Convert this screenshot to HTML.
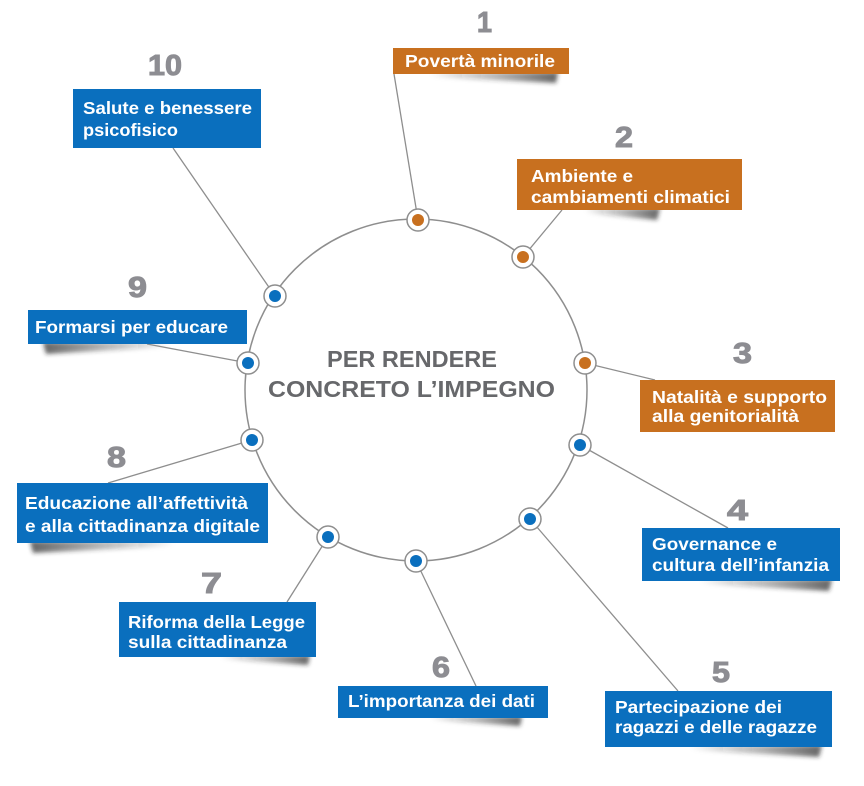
<!DOCTYPE html>
<html>
<head>
<meta charset="utf-8">
<style>
html,body{margin:0;padding:0;background:#fff;}
svg{display:block;}
.lbl{font-family:"Liberation Sans",sans-serif;font-weight:bold;font-size:17.5px;fill:#fff;}
.num{font-family:"Liberation Sans",sans-serif;font-weight:bold;font-size:29px;fill:#8d8d92;stroke:#8d8d92;stroke-width:1;}
.ctr{font-family:"Liberation Sans",sans-serif;font-weight:bold;font-size:23px;fill:#67686b;}
</style>
</head>
<body>
<svg width="864" height="786" viewBox="0 0 864 786" xmlns="http://www.w3.org/2000/svg">
<defs>
<filter id="bl" x="-20%" y="-200%" width="140%" height="500%"><feGaussianBlur stdDeviation="2.2"/></filter>
<linearGradient id="gr" x1="0" y1="0" x2="1" y2="0">
<stop offset="0" stop-color="#000" stop-opacity="0"/>
<stop offset="0.5" stop-color="#333" stop-opacity="0.35"/>
<stop offset="1" stop-color="#222" stop-opacity="0.7"/>
</linearGradient>
<linearGradient id="gl" x1="1" y1="0" x2="0" y2="0">
<stop offset="0" stop-color="#000" stop-opacity="0"/>
<stop offset="0.5" stop-color="#333" stop-opacity="0.35"/>
<stop offset="1" stop-color="#222" stop-opacity="0.7"/>
</linearGradient>
</defs>

<!-- shadows -->
<g filter="url(#bl)">
<polygon points="430,72 558,72 556,83 430,77" fill="url(#gr)"/>
<polygon points="585,208 660,208 657,220 585,213" fill="url(#gr)"/>
<polygon points="700,579 832,579 829,591 700,584" fill="url(#gr)"/>
<polygon points="690,745 822,745 819,757 690,750" fill="url(#gr)"/>
<polygon points="430,716 522,716 520,726 430,720" fill="url(#gr)"/>
<polygon points="220,655 310,655 308,665 220,659" fill="url(#gr)"/>
<polygon points="43,342 170,342 170,347 46,354" fill="url(#gl)"/>
<polygon points="30,541 175,541 175,546 33,553" fill="url(#gl)"/>
</g>

<!-- main circle -->
<circle cx="416" cy="390" r="171" fill="none" stroke="#8e8e8e" stroke-width="1.5"/>

<!-- connectors -->
<g stroke="#8e8e8e" stroke-width="1.3" fill="none">
<line x1="418" y1="220" x2="394" y2="74"/>
<line x1="523" y1="257" x2="562" y2="210"/>
<line x1="585" y1="363" x2="655" y2="380"/>
<line x1="580" y1="445" x2="728" y2="528"/>
<line x1="530" y1="519" x2="678" y2="691"/>
<line x1="416" y1="561" x2="476" y2="686"/>
<line x1="328" y1="537" x2="287" y2="602"/>
<line x1="252" y1="440" x2="108" y2="483"/>
<line x1="248" y1="363" x2="147" y2="344"/>
<line x1="275" y1="296" x2="173" y2="148"/>
</g>

<!-- boxes -->
<rect x="393" y="48" width="176" height="26" fill="#c8701f"/>
<rect x="517" y="159" width="225" height="51" fill="#c8701f"/>
<rect x="640" y="380" width="195" height="52" fill="#c8701f"/>
<rect x="642" y="528" width="198" height="53" fill="#0a6fbe"/>
<rect x="605" y="691" width="227" height="56" fill="#0a6fbe"/>
<rect x="338" y="686" width="210" height="32" fill="#0a6fbe"/>
<rect x="119" y="602" width="197" height="55" fill="#0a6fbe"/>
<rect x="17" y="483" width="251" height="60" fill="#0a6fbe"/>
<rect x="28" y="310" width="219" height="34" fill="#0a6fbe"/>
<rect x="73" y="89" width="188" height="59" fill="#0a6fbe"/>

<!-- nodes -->
<g stroke="#8e8e8e" stroke-width="1.5" fill="#fff">
<circle cx="418" cy="220" r="11"/>
<circle cx="523" cy="257" r="11"/>
<circle cx="585" cy="363" r="11"/>
<circle cx="580" cy="445" r="11"/>
<circle cx="530" cy="519" r="11"/>
<circle cx="416" cy="561" r="11"/>
<circle cx="328" cy="537" r="11"/>
<circle cx="252" cy="440" r="11"/>
<circle cx="248" cy="363" r="11"/>
<circle cx="275" cy="296" r="11"/>
</g>
<g fill="#c8701f">
<circle cx="418" cy="220" r="6"/>
<circle cx="523" cy="257" r="6"/>
<circle cx="585" cy="363" r="6"/>
</g>
<g fill="#0a6fbe">
<circle cx="580" cy="445" r="6"/>
<circle cx="530" cy="519" r="6"/>
<circle cx="416" cy="561" r="6"/>
<circle cx="328" cy="537" r="6"/>
<circle cx="252" cy="440" r="6"/>
<circle cx="248" cy="363" r="6"/>
<circle cx="275" cy="296" r="6"/>
</g>

<!-- center text -->
<text class="ctr" x="327" y="367" textLength="170" lengthAdjust="spacingAndGlyphs">PER RENDERE</text>
<text class="ctr" x="268" y="397" textLength="287" lengthAdjust="spacingAndGlyphs">CONCRETO L’IMPEGNO</text>

<!-- numbers -->
<text class="num" x="477" y="32" textLength="15" lengthAdjust="spacingAndGlyphs">1</text>
<text class="num" x="615" y="147" textLength="18" lengthAdjust="spacingAndGlyphs">2</text>
<text class="num" x="733" y="363" textLength="19" lengthAdjust="spacingAndGlyphs">3</text>
<text class="num" x="727" y="520" textLength="21" lengthAdjust="spacingAndGlyphs">4</text>
<text class="num" x="712" y="682" textLength="18" lengthAdjust="spacingAndGlyphs">5</text>
<text class="num" x="432" y="677" textLength="18" lengthAdjust="spacingAndGlyphs">6</text>
<text class="num" x="201" y="593" textLength="21" lengthAdjust="spacingAndGlyphs">7</text>
<text class="num" x="107" y="467" textLength="19" lengthAdjust="spacingAndGlyphs">8</text>
<text class="num" x="128" y="297" textLength="19" lengthAdjust="spacingAndGlyphs">9</text>
<text class="num" x="148" y="75" textLength="34" lengthAdjust="spacingAndGlyphs">10</text>

<!-- labels -->
<text class="lbl" x="405" y="67" textLength="150" lengthAdjust="spacingAndGlyphs">Povertà minorile</text>
<text class="lbl" x="531" y="182" textLength="102" lengthAdjust="spacingAndGlyphs">Ambiente e</text>
<text class="lbl" x="531" y="203" textLength="199" lengthAdjust="spacingAndGlyphs">cambiamenti climatici</text>
<text class="lbl" x="652" y="403" textLength="175" lengthAdjust="spacingAndGlyphs">Natalità e supporto</text>
<text class="lbl" x="652" y="422" textLength="147" lengthAdjust="spacingAndGlyphs">alla genitorialità</text>
<text class="lbl" x="652" y="550" textLength="125" lengthAdjust="spacingAndGlyphs">Governance e</text>
<text class="lbl" x="652" y="571" textLength="177" lengthAdjust="spacingAndGlyphs">cultura dell’infanzia</text>
<text class="lbl" x="615" y="713" textLength="167" lengthAdjust="spacingAndGlyphs">Partecipazione dei</text>
<text class="lbl" x="615" y="733" textLength="202" lengthAdjust="spacingAndGlyphs">ragazzi e delle ragazze</text>
<text class="lbl" x="348" y="707" textLength="187" lengthAdjust="spacingAndGlyphs">L’importanza dei dati</text>
<text class="lbl" x="128" y="628" textLength="177" lengthAdjust="spacingAndGlyphs">Riforma della Legge</text>
<text class="lbl" x="128" y="648" textLength="159" lengthAdjust="spacingAndGlyphs">sulla cittadinanza</text>
<text class="lbl" x="25" y="509" textLength="223" lengthAdjust="spacingAndGlyphs">Educazione all’affettività</text>
<text class="lbl" x="25" y="532" textLength="235" lengthAdjust="spacingAndGlyphs">e alla cittadinanza digitale</text>
<text class="lbl" x="35" y="333" textLength="193" lengthAdjust="spacingAndGlyphs">Formarsi per educare</text>
<text class="lbl" x="83" y="114" textLength="169" lengthAdjust="spacingAndGlyphs">Salute e benessere</text>
<text class="lbl" x="83" y="136" textLength="95" lengthAdjust="spacingAndGlyphs">psicofisico</text>
</svg>
</body>
</html>
